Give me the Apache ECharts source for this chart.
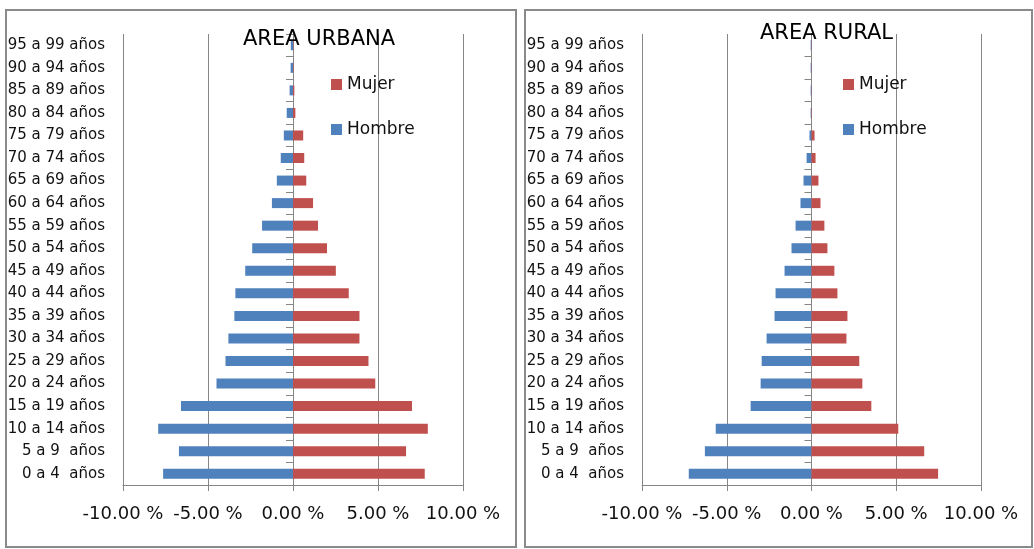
<!DOCTYPE html>
<html>
<head>
<meta charset="utf-8">
<script src="https://cdn.jsdelivr.net/npm/echarts@6/dist/echarts.min.js"></script>
<style>
  html, body { margin: 0; padding: 0; background: #fff; }
  #chart { width: 1034px; height: 549px; }
</style>
</head>
<body>
<div id="chart"></div>
<script>
// grupos de edad (de abajo hacia arriba)
const ageGroups = [
  '0 a 4  años', '5 a 9  años', '10 a 14 años', '15 a 19 años', '20 a 24 años',
  '25 a 29 años', '30 a 34 años', '35 a 39 años', '40 a 44 años', '45 a 49 años',
  '50 a 54 años', '55 a 59 años', '60 a 64 años', '65 a 69 años', '70 a 74 años',
  '75 a 79 años', '80 a 84 años', '85 a 89 años', '90 a 94 años', '95 a 99 años'
];

// porcentajes area urbana
const urbanHombre = [7.64, 6.71, 7.93, 6.59, 4.50, 3.97, 3.80, 3.45, 3.39, 2.81,
                     2.40, 1.82, 1.24, 0.95, 0.72, 0.54, 0.37, 0.20, 0.14, 0.13];
const urbanMujer = [7.75, 6.65, 7.93, 7.00, 4.84, 4.44, 3.91, 3.91, 3.28, 2.52,
                    2.00, 1.47, 1.18, 0.78, 0.66, 0.60, 0.14, 0.08, 0.03, 0.02];

// porcentajes area rural
const ruralHombre = [7.24, 6.29, 5.65, 3.59, 3.00, 2.94, 2.65, 2.18, 2.12, 1.59,
                     1.18, 0.94, 0.65, 0.47, 0.29, 0.12, 0.05, 0.05, 0.05, 0.05];
const ruralMujer = [7.47, 6.65, 5.12, 3.53, 3.00, 2.82, 2.06, 2.12, 1.53, 1.35,
                    0.94, 0.76, 0.53, 0.41, 0.24, 0.18, 0.03, 0.02, 0.02, 0.02];

// ticks del eje x
const xMin = -10, xMax = 10, xStep = 5;

const FONT = 'DejaVu Sans';
const GRAY = '#868686';
const BLUE = '#4F81BD';
const RED = '#C0504D';

const chart = echarts.init(document.getElementById('chart'));

const grids = [
  { left: 123, top: 34, width: 340, height: 451 },
  { left: 642, top: 34, width: 339, height: 451 }
];

const makeXAxis = (gridIndex) => ({
  type: 'value',
  gridIndex: gridIndex,
  min: xMin,
  max: xMax,
  interval: xStep,
  axisLine: { show: true, onZero: false, lineStyle: { color: GRAY } },
  axisTick: { show: true, length: 6, lineStyle: { color: GRAY } },
  splitLine: { show: true, lineStyle: { color: GRAY } },
  axisLabel: {
    margin: 20,
    fontFamily: FONT,
    fontSize: 18,
    color: '#111',
    formatter: v => v.toFixed(2) + ' %'
  }
});

// eje con etiquetas a la izquierda
const makeLabelAxis = (gridIndex) => ({
  type: 'category',
  gridIndex: gridIndex,
  position: 'left',
  data: ageGroups,
  axisLine: { show: false, onZero: false },
  axisTick: { show: false },
  axisLabel: { margin: 18, fontFamily: FONT, fontSize: 15, color: '#111' }
});

// eje central en el cero con ticks
const makeZeroAxis = (gridIndex) => ({
  type: 'category',
  gridIndex: gridIndex,
  position: 'left',
  data: ageGroups,
  axisLine: { show: true, onZero: true, lineStyle: { color: GRAY } },
  axisTick: { show: true, length: 7, lineStyle: { color: GRAY } },
  axisLabel: { show: false }
});

const makeSeries = (name, values, color, axisIdx, sign) => ({
  name: name,
  type: 'bar',
  xAxisIndex: axisIdx,
  yAxisIndex: axisIdx * 2,
  data: values.map(v => sign * v),
  barWidth: 10,
  barGap: '-100%',
  itemStyle: { color: color },
  silent: true
});

const makeLegend = (name, left, centerY) => ({
  data: [name],
  left: left,
  top: centerY - 6,
  padding: 0,
  orient: 'vertical',
  icon: 'rect',
  itemWidth: 11,
  itemHeight: 11,
  itemGap: 0,
  textStyle: { fontFamily: FONT, fontSize: 17, color: '#111', lineHeight: 12 }
});

const option = {
  animation: false,
  backgroundColor: '#fff',
  title: [
    { text: 'AREA URBANA', left: 243, top: 29, padding: 0,
      textStyle: { fontFamily: FONT, fontSize: 21, fontWeight: 'normal', color: '#000' } },
    { text: 'AREA RURAL', left: 760, top: 23, padding: 0,
      textStyle: { fontFamily: FONT, fontSize: 21, fontWeight: 'normal', color: '#000' } }
  ],
  legend: [
    makeLegend('Mujer', 331, 82),
    makeLegend('Hombre', 331, 127),
    makeLegend('Mujer', 843, 82),
    makeLegend('Hombre', 843, 127)
  ],
  grid: grids,
  xAxis: [makeXAxis(0), makeXAxis(1)],
  yAxis: [makeLabelAxis(0), makeZeroAxis(0), makeLabelAxis(1), makeZeroAxis(1)],
  series: [
    makeSeries('Hombre', urbanHombre, BLUE, 0, -1),
    makeSeries('Mujer', urbanMujer, RED, 0, 1),
    makeSeries('Hombre', ruralHombre, BLUE, 1, -1),
    makeSeries('Mujer', ruralMujer, RED, 1, 1)
  ],
  graphic: [
    { type: 'rect', shape: { x: 6, y: 10, width: 510, height: 537 },
      style: { fill: 'none', stroke: '#8a8a8a', lineWidth: 2 }, silent: true },
    { type: 'rect', shape: { x: 525, y: 10, width: 507, height: 537 },
      style: { fill: 'none', stroke: '#8a8a8a', lineWidth: 2 }, silent: true }
  ]
};

chart.setOption(option);
</script>
</body>
</html>
